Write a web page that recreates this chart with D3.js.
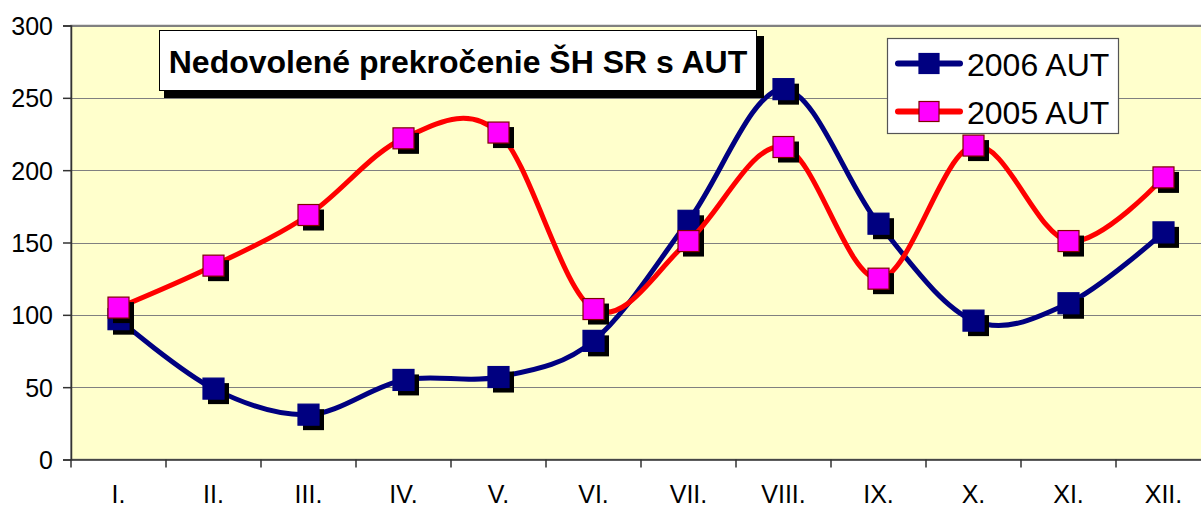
<!DOCTYPE html>
<html>
<head>
<meta charset="utf-8">
<script src="https://cdn.jsdelivr.net/npm/d3@7"></script>
<style>
html,body{margin:0;padding:0;background:#fff;overflow:hidden;}
svg{display:block;font-family:"Liberation Sans",Arial,sans-serif;}
</style>
</head>
<body>
<svg id="chart" width="1201" height="509"></svg>
<script>
const categories = ["I.","II.","III.","IV.","V.","VI.","VII.","VIII.","IX.","X.","XI.","XII."];
const series2006 = [97, 49, 31, 55, 57, 82, 165, 256, 163, 96, 108, 157];
const series2005 = [105, 134, 169, 222, 226, 104, 151, 216, 125, 217, 151, 195];
const seriesNames = ["2006 AUT", "2005 AUT"];
const yTicks = [0, 50, 100, 150, 200, 250, 300];
const titleText = "Nedovolené prekročenie ŠH SR s AUT";

const svg = d3.select("#chart");
const plot = {left: 71, right: 1211, top: 25.5, bottom: 459.5};

const x = d3.scaleBand().domain(categories).range([plot.left, plot.right]);
const y = d3.scaleLinear().domain([0, 300]).range([plot.bottom, plot.top]);

// plot background
svg.append("rect").attr("x", plot.left).attr("y", plot.top)
  .attr("width", plot.right - plot.left).attr("height", plot.bottom - plot.top)
  .attr("fill", "#FFFFCC").attr("stroke", "#808080").attr("stroke-width", 1.5);

// gridlines
svg.append("g").selectAll("line").data(yTicks.filter(d => d > 0)).join("line")
  .attr("x1", plot.left).attr("x2", plot.right)
  .attr("y1", d => Math.round(y(d)) + 0.5).attr("y2", d => Math.round(y(d)) + 0.5)
  .attr("stroke", "#808080").attr("stroke-width", 1.2);

// y axis
const yAxis = d3.axisLeft(y).tickValues(yTicks).tickSize(8).tickPadding(10);
const gy = svg.append("g").attr("transform", `translate(${plot.left},0)`).call(yAxis);
gy.select(".domain").attr("stroke", "#333").attr("stroke-width", 1.5);
gy.selectAll(".tick line").attr("stroke", "#333").attr("stroke-width", 1.5);
gy.selectAll("text").attr("font-size", 25).attr("fill", "#000")
  .attr("font-family", "Liberation Sans, Arial, sans-serif").attr("dy", "0.36em");

// x axis
const xAxis = d3.axisBottom(x).tickSize(0).tickFormat(d => d);
const gx = svg.append("g").attr("transform", `translate(0,${plot.bottom})`).call(xAxis);
gx.select(".domain").attr("stroke", "#333").attr("stroke-width", 1.5);
gx.selectAll("text").attr("font-size", 25).attr("fill", "#000")
  .attr("font-family", "Liberation Sans, Arial, sans-serif")
  .attr("dy", null).attr("y", 43.5);
// category boundary ticks
const boundaries = categories.map(c => x(c)).concat([x(categories[categories.length-1]) + x.bandwidth()]);
svg.append("g").selectAll("line").data(boundaries).join("line")
  .attr("x1", d => d).attr("x2", d => d)
  .attr("y1", plot.bottom).attr("y2", plot.bottom + 8)
  .attr("stroke", "#333").attr("stroke-width", 1.5);

const cx = c => x(c) + x.bandwidth() / 2;
const line = d3.line().x((d, i) => cx(categories[i])).y(d => y(d)).curve(d3.curveCardinal.tension(0));

const seriesDefs = [
  {name: seriesNames[0], values: series2006, color: "#000080", fill: "#000080", stroke: "#000080"},
  {name: seriesNames[1], values: series2005, color: "#FF0000", fill: "#FF00FF", stroke: "#800000"}
];
const ms = 21;
seriesDefs.forEach(s => {
  const g = svg.append("g");
  g.append("path").attr("d", line(s.values)).attr("fill", "none")
    .attr("stroke", s.color).attr("stroke-width", 5).attr("stroke-linejoin", "round");
  g.selectAll("rect.sh").data(s.values).join("rect").attr("class", "sh")
    .attr("x", (d, i) => cx(categories[i]) - ms/2 + 5).attr("y", d => y(d) - ms/2 + 5)
    .attr("width", ms).attr("height", ms).attr("fill", "#000");
  g.selectAll("rect.mk").data(s.values).join("rect").attr("class", "mk")
    .attr("x", (d, i) => cx(categories[i]) - ms/2).attr("y", d => y(d) - ms/2)
    .attr("width", ms).attr("height", ms).attr("fill", s.fill)
    .attr("stroke", s.stroke).attr("stroke-width", 1.2);
});

// title box
svg.append("rect").attr("x", 164).attr("y", 36).attr("width", 600).attr("height", 62).attr("fill", "#000");
svg.append("rect").attr("x", 159.5).attr("y", 30.5).attr("width", 597).attr("height", 60)
  .attr("fill", "#fff").attr("stroke", "#000").attr("stroke-width", 1);
svg.append("text").attr("x", 458).attr("y", 73).attr("text-anchor", "middle")
  .attr("font-size", 32).attr("font-weight", "bold").attr("fill", "#000").text(titleText);

// legend
const lg = svg.append("g");
lg.append("rect").attr("x", 887.5).attr("y", 38.5).attr("width", 231).attr("height", 95)
  .attr("fill", "#fff").attr("stroke", "#555").attr("stroke-width", 1.2);
const legendY = [63.5, 111.5];
seriesDefs.forEach((s, i) => {
  const yy = legendY[i];
  lg.append("line").attr("x1", 898).attr("x2", 960).attr("y1", yy).attr("y2", yy)
    .attr("stroke", s.color).attr("stroke-width", 6).attr("stroke-linecap", "round");
  lg.append("rect").attr("x", 929 - 10).attr("y", yy - 10).attr("width", 20).attr("height", 20)
    .attr("fill", s.fill).attr("stroke", s.stroke).attr("stroke-width", 1.2);
  lg.append("text").attr("x", 967).attr("y", yy + 12.5).attr("font-size", 32)
    .attr("fill", "#000").text(s.name);
});
</script>
</body>
</html>
